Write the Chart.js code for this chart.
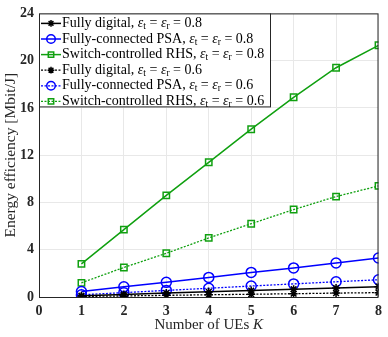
<!DOCTYPE html>
<html>
<head>
<meta charset="utf-8">
<script src="https://cdn.jsdelivr.net/npm/chart.js@4.4.1/dist/chart.umd.min.js"></script>
<style>
  html, body { margin: 0; padding: 0; background: #fff; }
  #wrap { width: 388px; height: 337px; position: relative; }
</style>
</head>
<body>
<div id="wrap"><canvas id="grafico"></canvas></div>
<script>
// numero de usuarios K
var usuarios = [1, 2, 3, 4, 5, 6, 7, 8];

// eficiencia energetica [Mbit/J]
var digital08 = [0.11, 0.22, 0.33, 0.44, 0.55, 0.66, 0.76, 0.87];
var psa08 = [0.46, 0.86, 1.24, 1.66, 2.08, 2.46, 2.88, 3.30];
var rhs08 = [2.8, 5.7, 8.6, 11.4, 14.2, 16.9, 19.4, 21.3];
var digital06 = [0.05, 0.09, 0.14, 0.19, 0.23, 0.28, 0.33, 0.37];
var psa06 = [0.19, 0.37, 0.56, 0.74, 0.93, 1.11, 1.29, 1.46];
var rhs06 = [1.2, 2.5, 3.7, 5.0, 6.2, 7.4, 8.5, 9.4];

var etiquetasX = [0, 1, 2, 3, 4, 5, 6, 7, 8];
var etiquetasY = [0, 4, 8, 12, 16, 20, 24];

var leyenda = [
    {nombre: "Fully digital, ", eps: "0.8"},
    {nombre: "Fully-connected PSA, ", eps: "0.8"},
    {nombre: "Switch-controlled RHS, ", eps: "0.8"},
    {nombre: "Fully digital, ", eps: "0.6"},
    {nombre: "Fully-connected PSA, ", eps: "0.6"},
    {nombre: "Switch-controlled RHS, ", eps: "0.6"}
];

var NEGRO = "#000000";
var AZUL = "#0000ff";
var VERDE = "#10a010";
var SERIF = "'Liberation Serif', 'Times New Roman', serif";

function puntos(valores)
{
    return valores.map(function(v, i){ return {x: usuarios[i], y: v}; });
}

function serie(nombre, valores, color, marcador, punteado, tam)
{
    return {
        label: nombre,
        data: puntos(valores),
        borderColor: color,
        backgroundColor: "rgba(0,0,0,0)",
        borderWidth: punteado ? 1.3 : 1.5,
        borderDash: punteado ? [2, 1.5] : [],
        pointStyle: marcador,
        pointRadius: tam,
        pointBorderWidth: 1.5,
        pointBorderColor: color,
        pointBackgroundColor: marcador === "star" ? color : "rgba(0,0,0,0)",
        tension: 0
    };
}

var datasets = [
    serie("Fully digital", digital08, NEGRO, "star", false, 4),
    serie("Fully-connected PSA", psa08, AZUL, "circle", false, 5),
    serie("Switch-controlled RHS", rhs08, VERDE, "rect", false, 4.5),
    serie("Fully digital", digital06, NEGRO, "star", true, 4),
    serie("Fully-connected PSA", psa06, AZUL, "circle", true, 5),
    serie("Switch-controlled RHS", rhs06, VERDE, "rect", true, 4.5)
];

// dibuja texto con subindices y devuelve x final
function texto(ctx, partes, x, y)
{
    partes.forEach(function(p){
        ctx.font = p.f;
        ctx.fillText(p.t, x, y + (p.dy || 0));
        x += ctx.measureText(p.t).width;
    });
    return x;
}

var marcoYLeyenda = {
    id: "marcoYLeyenda",
    afterDraw: function(chart){
        var ctx = chart.ctx;
        var a = chart.chartArea;
        ctx.save();
        // caja de ejes
        ctx.strokeStyle = "#262626";
        ctx.lineWidth = 1;
        ctx.strokeRect(a.left + 0.5, a.top + 0.5, a.right - a.left - 1, a.bottom - a.top);

        // titulo eje x con K en cursiva
        ctx.fillStyle = "#262626";
        ctx.textBaseline = "middle";
        var fN = "15px " + SERIF, fI = "italic 15px " + SERIF;
        ctx.font = fN;
        var w1 = ctx.measureText("Number of UEs ").width;
        ctx.font = fI;
        var w2 = ctx.measureText("K").width;
        var cx = (a.left + a.right) / 2;
        texto(ctx, [{t: "Number of UEs ", f: fN}, {t: "K", f: fI}], cx - (w1 + w2) / 2, 325);

        // leyenda
        var lx = a.left, ly = a.top, lw = 231, lh = 93;
        ctx.fillStyle = "#ffffff";
        ctx.fillRect(lx, ly, lw, lh);
        ctx.strokeStyle = "#262626";
        ctx.strokeRect(lx + 0.5, ly + 0.5, lw, lh);
        var fT = "14px " + SERIF, fE = "italic 14px " + SERIF, fS = "9.5px " + SERIF;
        chart.data.datasets.forEach(function(ds, i){
            var y = ly + 10 + i * 15.6;
            ctx.strokeStyle = ds.borderColor;
            ctx.lineWidth = ds.borderWidth;
            ctx.setLineDash(ds.borderDash);
            ctx.beginPath();
            ctx.moveTo(lx + 2, y);
            ctx.lineTo(lx + 22, y);
            ctx.stroke();
            ctx.setLineDash([]);
            ctx.fillStyle = ds.pointBackgroundColor;
            ctx.strokeStyle = ds.borderColor;
            ctx.lineWidth = ds.pointBorderWidth;
            Chart.helpers.drawPoint(ctx, {
                pointStyle: ds.pointStyle,
                radius: ds.pointRadius * 0.85,
                borderWidth: ds.pointBorderWidth,
                rotation: 0
            }, lx + 12, y);
            ctx.fillStyle = "#000000";
            texto(ctx, [
                {t: leyenda[i].nombre, f: fT},
                {t: "\u03b5", f: fE},
                {t: "t", f: fS, dy: 3},
                {t: " = ", f: fT},
                {t: "\u03b5", f: fE},
                {t: "r", f: fS, dy: 3},
                {t: " = " + leyenda[i].eps, f: fT}
            ], lx + 23, y);
        });
        ctx.restore();
    }
};

new Chart(document.getElementById("grafico"), {
    type: "line",
    data: {datasets: datasets},
    options: {
        responsive: true,
        maintainAspectRatio: false,
        animation: false,
        layout: {padding: {top: 5, right: 9, left: 0, bottom: 0}},
        plugins: {legend: {display: false}, tooltip: {enabled: false}},
        scales: {
            x: {
                type: "linear",
                min: 0,
                max: 8,
                afterFit: function(s){ s.height = 40; },
                afterBuildTicks: function(s){ s.ticks = etiquetasX.map(function(v){ return {value: v}; }); },
                grid: {color: "#e8e8e8", drawTicks: false, lineWidth: 1},
                border: {display: false},
                ticks: {
                    padding: 6,
                    color: "#262626",
                    font: {family: SERIF, size: 14, weight: "bold"}
                }
            },
            y: {
                min: 0,
                max: 24,
                afterFit: function(s){ s.width = 39; },
                afterBuildTicks: function(s){ s.ticks = etiquetasY.map(function(v){ return {value: v}; }); },
                grid: {color: "#e8e8e8", drawTicks: false, lineWidth: 1},
                border: {display: false},
                ticks: {
                    padding: 5,
                    color: "#262626",
                    font: {family: SERIF, size: 14, weight: "bold"}
                },
                title: {
                    display: true,
                    text: "Energy efficiency [Mbit/J]",
                    color: "#262626",
                    padding: {top: 2, bottom: 0},
                    font: {family: SERIF, size: 15.5, weight: "normal"}
                }
            }
        }
    },
    plugins: [marcoYLeyenda]
});
</script>
</body>
</html>
